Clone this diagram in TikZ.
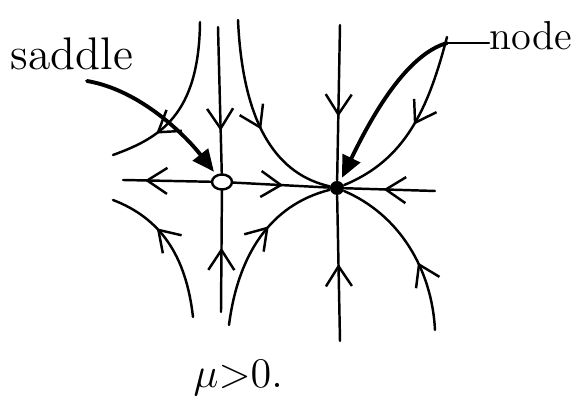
\documentclass[tikz,border=0pt]{standalone}
\usepackage{tikz}
\usetikzlibrary{shapes.geometric, arrows.meta, positioning, decorations.markings}

\begin{document}
\begin{tikzpicture}[
    x=0.01cm, y=-0.01cm,
    orbit/.style={line width=0.7pt, line cap=round},
    flow/.style={postaction={decorate}, decoration={markings, mark=at position #1 with {\arrow{Straight Barb[length=2mm, width=2.6mm]}}}},
    pointer/.style={line width=1.1pt, line cap=round, -{Triangle[length=2.2mm, width=1.9mm]}},
    lbl/.style={font=\fontsize{13}{15}\selectfont, inner sep=0pt},
    saddlept/.style={draw, ellipse, line width=0.7pt, minimum width=0.2cm, minimum height=0.15cm, inner sep=0pt},
    nodept/.style={circle, fill=black, minimum size=0.14cm, inner sep=0pt},
]
    \useasboundingbox (0,0) rectangle (578,404);

    % Equilibria
    \node[saddlept] (saddle) at (222,182) {};
    \node[nodept] (node) at (337,188) {};

    % Free ends of the trajectories
    \coordinate (axL) at (123,180);
    \coordinate (axR) at (435,191);
    \coordinate (sT) at (218,27);
    \coordinate (sB) at (221,312);
    \coordinate (nT) at (340,25);
    \coordinate (nB) at (340,341);
    \coordinate (aS) at (200,22);
    \coordinate (aE) at (113,155);
    \coordinate (bS) at (238,20);
    \coordinate (cS) at (193,317);
    \coordinate (cE) at (113,200);
    \coordinate (dS) at (229,325);
    \coordinate (eS) at (447,37);
    \coordinate (fS) at (435,330);

    % Horizontal axis
    \draw[orbit, flow=0.75] (saddle) -- (axL);
    \draw[orbit, flow=0.52] (saddle) -- (node);
    \draw[orbit, flow=0.57] (axR) -- (node);

    % Vertical lines
    \draw[orbit, flow=0.71] (sT) -- (saddle);
    \draw[orbit, flow=0.53] (sB) -- (saddle);
    \draw[orbit, flow=0.59] (nT) -- (node);
    \draw[orbit, flow=0.53] (nB) -- (node);

    % Curved trajectories
    \draw[orbit, flow=0.72] (aS) .. controls (199,115) and (160,138) .. (aE);
    \draw[orbit, flow=0.55] (bS) .. controls (243,130) and (280,175) .. (node);
    \draw[orbit, flow=0.65] (cS) .. controls (186,255) and (160,218) .. (cE);
    \draw[orbit, flow=0.6] (dS) .. controls (238,255) and (270,205) .. (node);
    \draw[orbit, flow=0.5] (eS) .. controls (428,110) and (405,160) .. (node);
    \draw[orbit, flow=0.4] (fS) .. controls (432,270) and (400,215) .. (node);

    % Labels
    \node[lbl, anchor=base] (saddlelbl) at (72,70) {saddle};
    \node[lbl, font=\fontsize{11.5}{14}\selectfont, anchor=base west] (nodelbl) at (489,50) {node};
    \node[lbl, anchor=base west] (mulbl) at (193,388) {$\mu{>}0.$};

    % Pointers
    \coordinate (saddlepin) at (87,81);
    \coordinate (nodepin) at (447,43);
    \draw[pointer, shorten >=1pt] (saddlepin) .. controls (140,90) and (185,135) .. (saddle);
    \draw[orbit] (nodepin) -- (nodepin -| nodelbl.west);
    \draw[pointer, shorten >=1pt] (nodepin) .. controls (405,55) and (370,120) .. (node);
\end{tikzpicture}
\end{document}
